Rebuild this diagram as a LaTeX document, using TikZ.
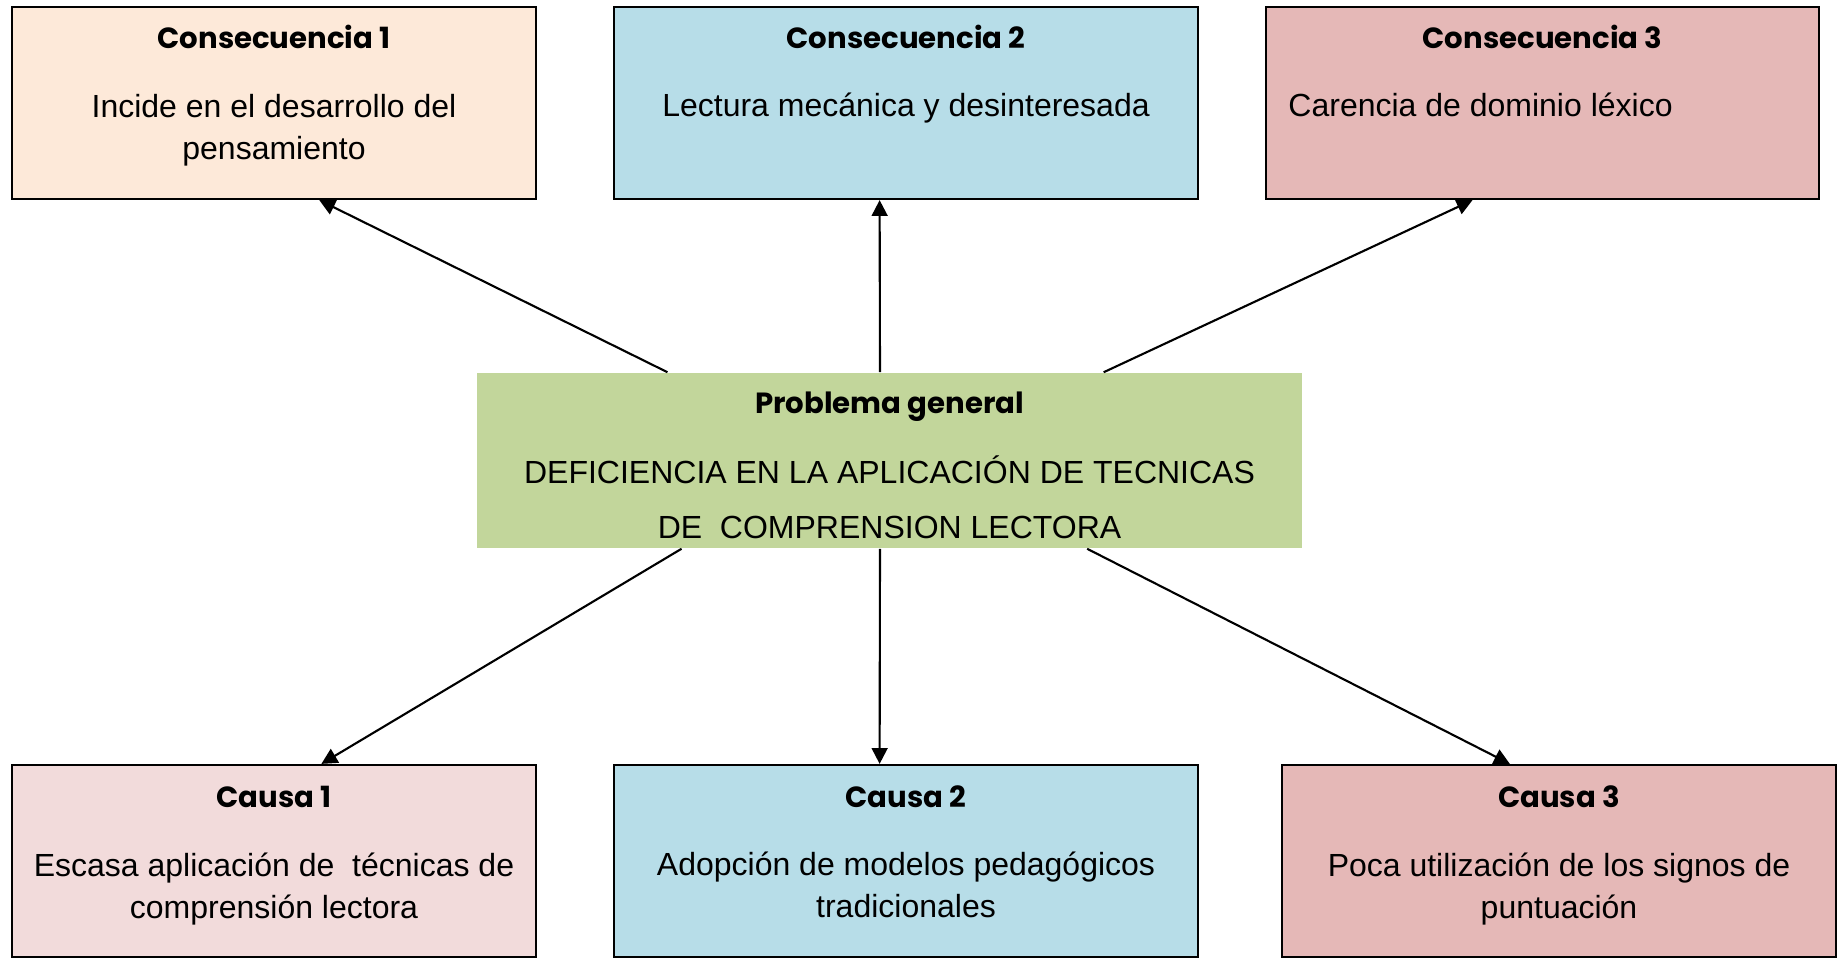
\documentclass[tikz,border=0pt]{standalone}
\usepackage{fontspec}
\setmainfont{Liberation Sans}
\newfontfamily\headfont{Poppins}
\usetikzlibrary{calc,arrows.meta}

\definecolor{peach}{HTML}{FDE9D9}
\definecolor{sky}{HTML}{B7DDE8}
\definecolor{rose}{HTML}{E5B8B7}
\definecolor{pale}{HTML}{F2DBDB}
\definecolor{olive}{HTML}{C2D69B}

\tikzset{
  box/.style={draw, line width=0.6pt, rectangle, inner sep=0pt,
              minimum width=5.24cm, minimum height=1.92cm},
  head/.style={font=\headfont\bfseries\fontsize{8.3}{10}\selectfont},
  body/.style={font=\fontsize{9.1}{11.9}\selectfont, align=center},
  arr/.style={-{Triangle[width=4.5pt,length=4.5pt]}, line width=0.6pt}
}

\begin{document}
\begin{tikzpicture}[x=0.01cm,y=-0.01cm]
  \useasboundingbox (0,0) rectangle (1843,961);

  % consecuencias
  \node[box, fill=peach] (C1) at (274,103) {};
  \node[box, fill=sky, minimum width=5.84cm] (C2) at (906,103) {};
  \node[box, fill=rose, minimum width=5.53cm] (C3) at (1542.5,103) {};
  \node[head] (C1h) at (274,37) {Consecuencia 1};
  \node[head] (C2h) at (906,37) {Consecuencia 2};
  \node[head] (C3h) at (1542.5,37) {Consecuencia 3};
  \node[body] (C1t) at (274,130) {Incide en el desarrollo del\\pensamiento};
  \node[body] (C2t) at (906,108) {Lectura mecánica y desinteresada};
  \node[body, anchor=west] (C3t) at (1276,105) {Carencia de dominio léxico};

  % problema
  \node[fill=olive, inner sep=0pt, minimum width=8.25cm, minimum height=1.75cm] (P) at (889.5,460.5) {};
  \node[head] (Ph) at (889.5,407) {Problema general};
  \node[body, font=\fontsize{9.1}{15.6}\selectfont] (Pt) at (889.5,497.5)
    {DEFICIENCIA EN LA APLICACIÓN DE TECNICAS\\DE\ \ COMPRENSION LECTORA};

  % causas
  \node[box, fill=pale] (K1) at (274,861) {};
  \node[box, fill=sky, minimum width=5.84cm] (K2) at (906,861) {};
  \node[box, fill=rose, minimum width=5.54cm] (K3) at (1559,861) {};
  \node[head] (K1h) at (274,797) {Causa 1};
  \node[head] (K2h) at (906,797) {Causa 2};
  \node[head] (K3h) at (1559,797) {Causa 3};
  \node[body] (K1t) at (274,889) {Escasa aplicación de\ \ técnicas de\\comprensión lectora};
  \node[body] (K2t) at (906,885) {Adopción de modelos pedagógicos\\tradicionales};
  \node[body] (K3t) at (1559,889) {Poca utilización de los signos de\\puntuación};

  % flechas
  \draw[arr] ($(P.north west)!0.2315!(P.north east)$) -- ($(C1.south west)!0.586!(C1.south east)$);
  \draw[arr] ($(P.north west)!0.4885!(P.north east)$) -- ($(C2.south west)!0.455!(C2.south east)$);
  \draw[arr] ($(P.north west)!0.759!(P.north east)$) -- ($(C3.south west)!0.374!(C3.south east)$);
  \draw[arr] ($(P.south west)!0.2485!(P.south east)$) -- ($(K1.north west)!0.59!(K1.north east)$);
  \draw[arr] ($(P.south west)!0.4885!(P.south east)$) -- ($(K2.north west)!0.455!(K2.north east)$);
  \draw[arr] ($(P.south west)!0.739!(P.south east)$) -- ($(K3.north west)!0.4116!(K3.north east)$);
\end{tikzpicture}
\end{document}
